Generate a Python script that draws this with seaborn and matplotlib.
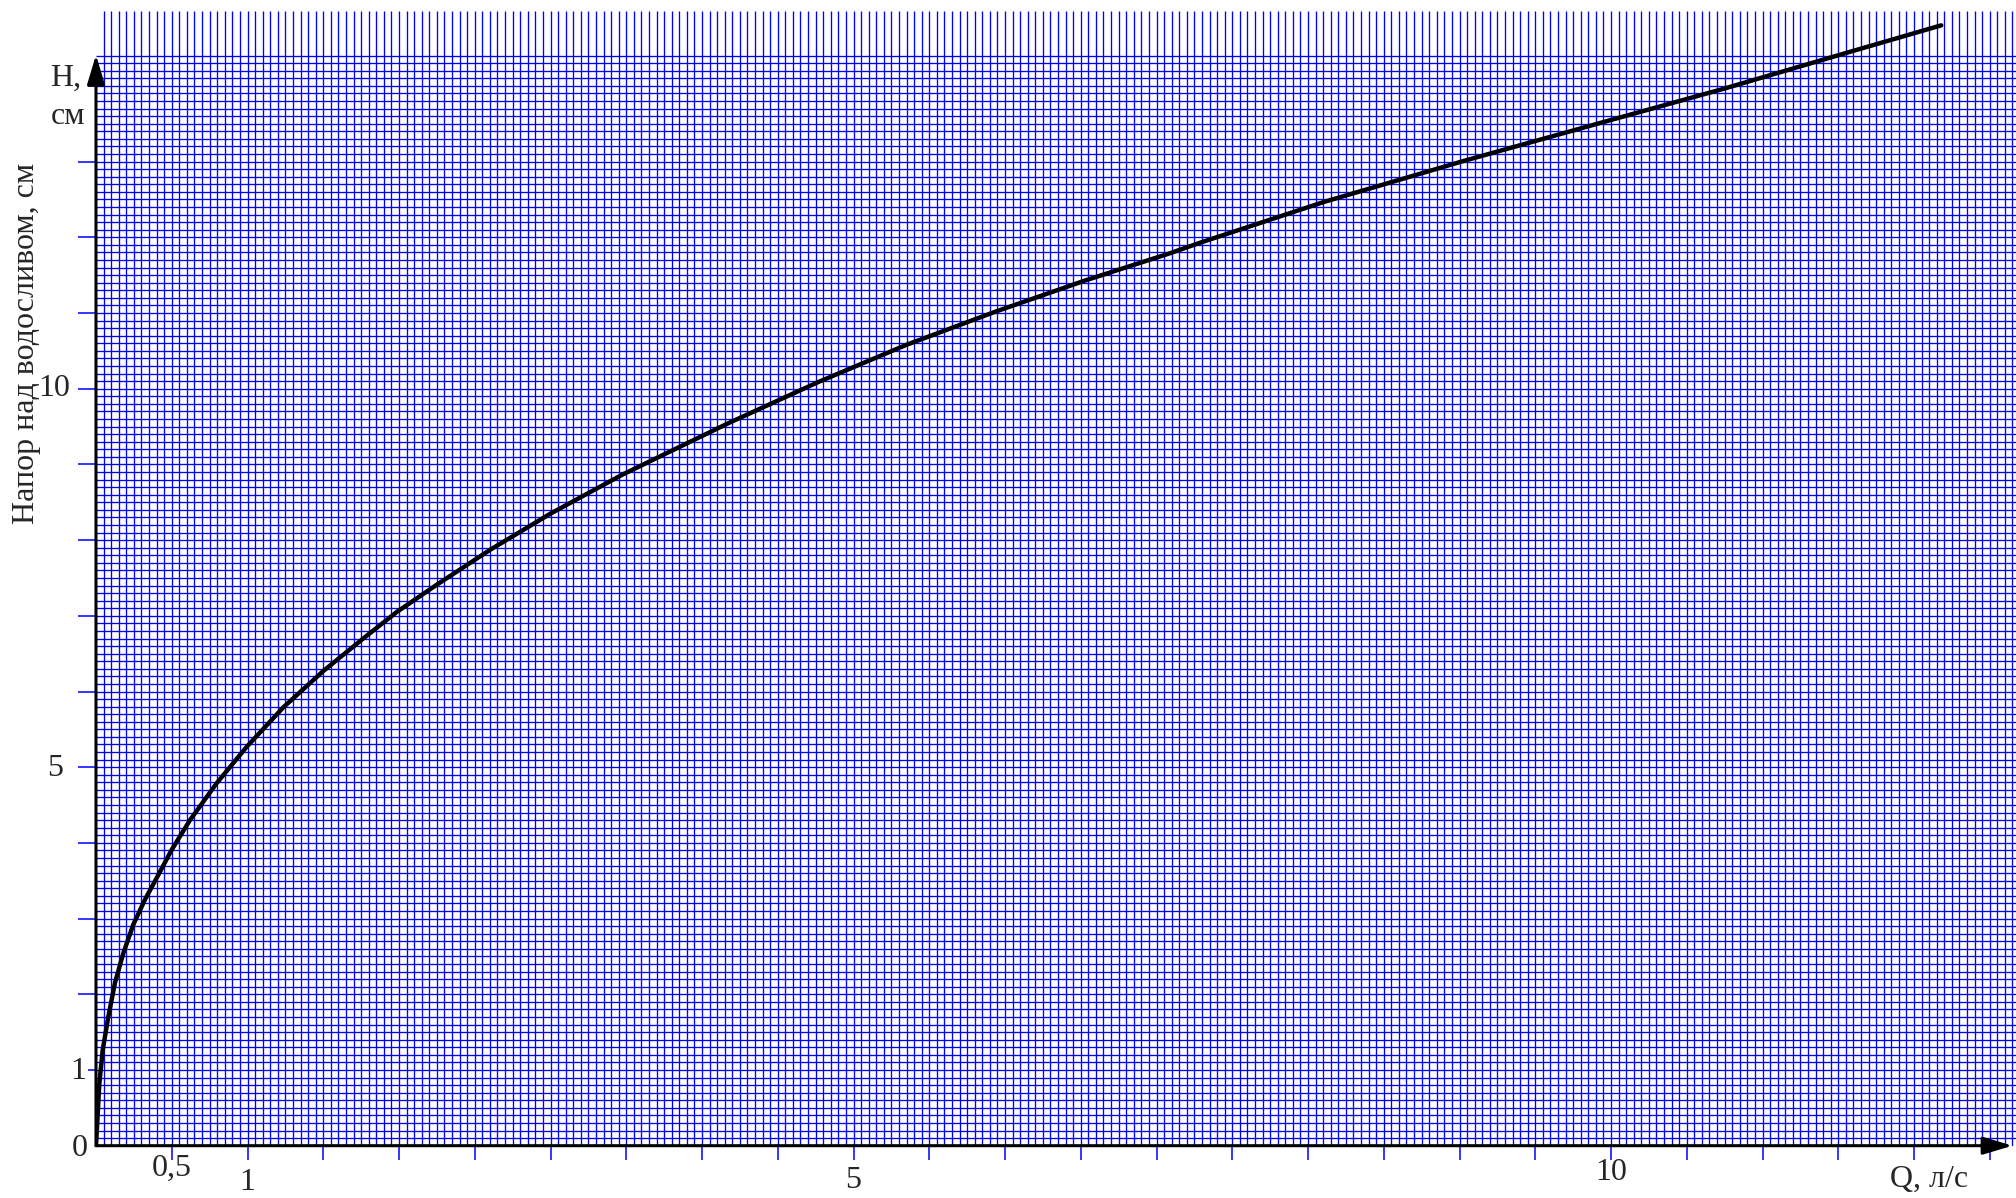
import numpy as np
import matplotlib
matplotlib.use("Agg")
import matplotlib.pyplot as plt
import seaborn as sns

# расход Q, л/с и напор H, см
q_vals = [0, 0.022, 0.044, 0.081, 0.125, 0.18, 0.246, 0.323, 0.412, 0.50,
          0.62, 0.797, 0.995, 1.236, 1.50, 1.764, 1.985, 2.249, 2.60, 3.0,
          3.47, 4.18, 4.77, 5.35, 5.94, 6.53, 7.09, 7.29, 8.11, 9.03,
          9.91, 10.74, 11.56, 12.18]
h_vals = [0, 0.82, 1.26, 1.70, 2.15, 2.54, 2.92, 3.25, 3.58, 3.91,
          4.30, 4.79, 5.27, 5.79, 6.27, 6.70, 7.05, 7.41, 7.87, 8.35,
          8.86, 9.55, 10.09, 10.58, 11.02, 11.43, 11.79, 11.93, 12.47, 13.01,
          13.50, 13.96, 14.44, 14.80]

x_tick_vals = np.arange(0.5, 12.6, 0.5)
y_tick_long = [2, 3, 4, 5, 6, 7, 8, 9, 10, 11, 12, 13]
y_tick_short = [1, 14]

x_labels = {"0,5": (0.5, -0.3), "1": (1, -0.48), "5": (5, -0.46), "10": (10, -0.35)}
y_labels = {"0": (-0.105, -0.04), "1": (-0.12, 0.98), "5": (-0.27, 4.98), "10": (-0.277, 10.0)}

sns.set_style("white")
plt.rcParams['font.family'] = ['Liberation Serif', 'DejaVu Serif']

fig = plt.figure(figsize=(20.16, 11.98), dpi=100)
ax = fig.add_axes([96 / 2016, (1198 - 1145.7) / 1198, 1920 / 2016, 1134.7 / 1198])
xmax = 1920 / 151.5
ymax = 1134.7 / 75.7
ax.set_xlim(0, xmax)
ax.set_ylim(0, ymax)

# миллиметровка
grid_q = np.arange(0.05, xmax, 0.05)
grid_h = np.arange(0.1, 14.45, 0.1)
ax.vlines(grid_q, 0, ymax, colors='#0000ff', lw=0.95, zorder=1)
ax.hlines(grid_h, 0, xmax, colors='#0000ff', lw=0.95, zorder=1)

sns.lineplot(x=q_vals, y=h_vals, color='black', linewidth=3.2, ax=ax,
             solid_capstyle='round', solid_joinstyle='round', zorder=4)

for s in ax.spines.values():
    s.set_visible(False)

# оси со стрелками
arrow = dict(arrowstyle='-|>,head_length=0.6,head_width=0.18', lw=2.2,
             color='black', shrinkA=0, shrinkB=0, mutation_scale=30)
ax.annotate('', xy=(12.65, 0), xytext=(0, 0), arrowprops=arrow,
            annotation_clip=False, zorder=5)
ax.annotate('', xy=(0, 14.41), xytext=(0, 0), arrowprops=arrow,
            annotation_clip=False, zorder=5)

ax.set_xticks(x_tick_vals)
ax.set_xticklabels([])
ax.set_yticks(y_tick_long)
ax.set_yticks(y_tick_short, minor=True)
ax.set_yticklabels([])
ax.tick_params(axis='x', direction='out', length=10, width=1.1, color='#0000ff',
               bottom=True)
ax.tick_params(axis='y', which='major', direction='out', length=13, width=1.1,
               color='#0000ff', left=True)
ax.tick_params(axis='y', which='minor', direction='out', length=6, width=1.1,
               color='#0000ff', left=True)

fs = 23
for txt, (xq, yh) in x_labels.items():
    ax.text(xq, yh, txt, ha='center', va='center', fontsize=fs, clip_on=False)
for txt, (xq, yh) in y_labels.items():
    ax.text(xq, yh, txt, ha='center', va='center', fontsize=fs, clip_on=False)

ax.text(-0.3, 14.1, "H,", ha='left', va='center', fontsize=fs, clip_on=False)
ax.text(-0.3, 13.6, "см", ha='left', va='center', fontsize=fs, clip_on=False)
ax.text(12.1, -0.45, "Q, л/с", ha='center', va='center', fontsize=fs, clip_on=False)
ax.text(-0.46, 10.6, "Напор над водосливом, см", rotation=90, ha='center',
        va='center', fontsize=fs, clip_on=False)

fig.savefig("out.png", dpi=100)
